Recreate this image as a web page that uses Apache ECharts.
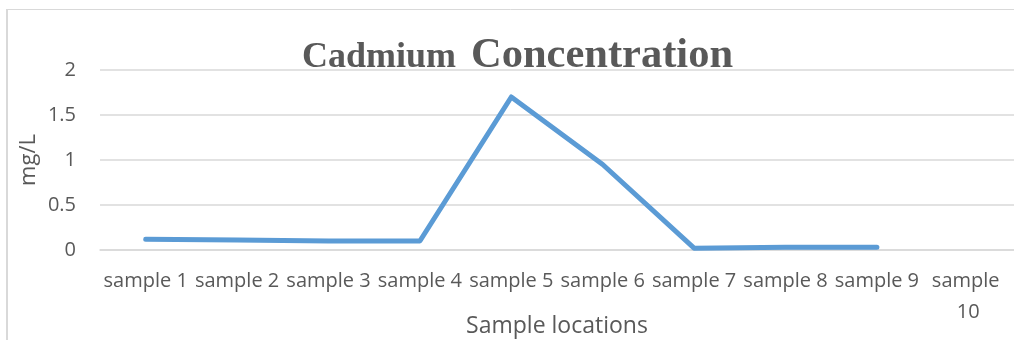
<!DOCTYPE html>
<html>
<head>
<meta charset="utf-8">
<script src="https://cdn.jsdelivr.net/npm/echarts@6/dist/echarts.min.js"></script>
<style>
  html, body { margin: 0; padding: 0; background: #ffffff; }
  #chart { width: 1014px; height: 340px; }
</style>
</head>
<body>
<div id="chart"></div>
<script>
// Sampling sites along the x axis
const categories = ['sample 1', 'sample 2', 'sample 3', 'sample 4', 'sample 5',
                    'sample 6', 'sample 7', 'sample 8', 'sample 9', 'sample 10'];
// Measured cadmium concentration (mg/L); sample 10 has no reading
const cadmium = [0.12, 0.11, 0.10, 0.10, 1.70, 0.95, 0.02, 0.03, 0.03, null];
// Value axis range and step
const yMin = 0;
const yMax = 2;
const yStep = 0.5;

const textColor = '#595959';
const gridColor = '#d9d9d9';
const labelFont = '"Open Sans", sans-serif';
const titleFont = '"Liberation Serif", serif';

// Title words share one baseline but use two sizes
const titleBaseline = 70;
function titleWord(text, x, size) {
  return {
    type: 'text',
    x: x,
    y: titleBaseline - 0.34 * size,
    silent: true,
    style: {
      text: text,
      font: 'bold ' + size + 'px ' + titleFont,
      fill: textColor,
      align: 'left',
      verticalAlign: 'middle'
    }
  };
}

const chart = echarts.init(document.getElementById('chart'), null, { renderer: 'canvas' });

chart.setOption({
  backgroundColor: '#ffffff',
  animation: false,
  graphic: [
    // outer chart frame (top and left edges)
    { type: 'line', shape: { x1: 7, y1: 9.5, x2: 1014, y2: 9.5 }, style: { stroke: gridColor, lineWidth: 1 }, silent: true },
    { type: 'line', shape: { x1: 7, y1: 9, x2: 7, y2: 340 }, style: { stroke: gridColor, lineWidth: 2 }, silent: true },
    titleWord('Cadmium', 302, 36),
    titleWord('Concentration', 471, 42.5)
  ],
  grid: { left: 100, right: 0, top: 70, bottom: 90, containLabel: false, outerBoundsMode: 'none' },
  xAxis: {
    type: 'category',
    data: categories,
    boundaryGap: true,
    name: 'Sample locations',
    nameLocation: 'middle',
    nameGap: 65,
    nameMoveOverlap: false,
    nameTextStyle: { fontFamily: labelFont, fontSize: 23, color: textColor },
    axisLine: { show: true, lineStyle: { color: gridColor, width: 1.5 } },
    axisTick: { show: false },
    axisLabel: {
      interval: 0,
      margin: 16,
      fontFamily: labelFont,
      fontSize: 20,
      color: textColor,
      width: 90,
      overflow: 'break',
      lineHeight: 31
    }
  },
  yAxis: {
    type: 'value',
    min: yMin,
    max: yMax,
    interval: yStep,
    name: 'mg/L',
    nameLocation: 'middle',
    nameGap: 60,
    nameMoveOverlap: false,
    nameTextStyle: { fontFamily: labelFont, fontSize: 22, color: textColor },
    axisLine: { show: false },
    axisTick: { show: false },
    axisLabel: { margin: 24, fontFamily: labelFont, fontSize: 20, color: textColor },
    splitLine: { show: true, lineStyle: { color: gridColor, width: 1.5 } }
  },
  series: [{
    type: 'line',
    data: cadmium,
    showSymbol: false,
    symbol: 'none',
    connectNulls: false,
    lineStyle: { color: '#5b9bd5', width: 5, cap: 'round', join: 'round' },
    itemStyle: { color: '#5b9bd5' }
  }]
});
</script>
</body>
</html>
